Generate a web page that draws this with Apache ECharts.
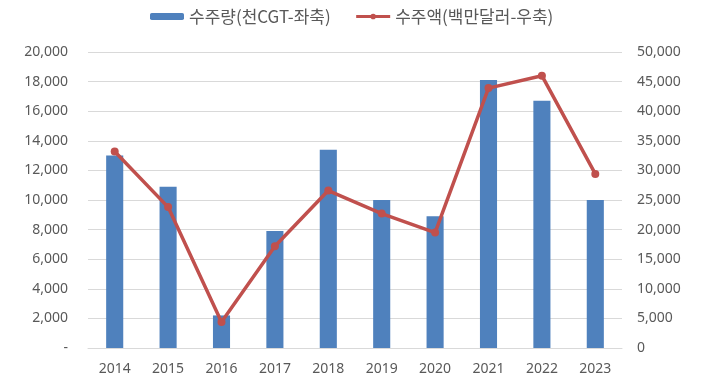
<!DOCTYPE html>
<html>
<head>
<meta charset="utf-8">
<script src="https://cdn.jsdelivr.net/npm/echarts@6/dist/echarts.min.js"></script>
<style>html,body{margin:0;padding:0;background:#fff;}#c{width:701px;height:391px;}</style>
</head>
<body>
<div id="c"></div>
<script>
const categories = ['2014','2015','2016','2017','2018','2019','2020','2021','2022','2023'];
const orderVolume = [13000, 10900, 2200, 7900, 13400, 10000, 8900, 18100, 16700, 10000];
const orderValue = [33200, 23800, 4400, 17200, 26600, 22700, 19500, 43900, 46000, 29400];
const leftTicks = {min: 0, max: 20000, interval: 2000};
const rightTicks = {min: 0, max: 50000, interval: 5000};

const fmt = v => v.toLocaleString('en-US');
const chart = echarts.init(document.getElementById('c'));
const font = '"Noto Sans CJK KR", "Noto Sans", sans-serif';
const numFont = '"Noto Sans", "Noto Sans CJK KR", sans-serif';
chart.setOption({
  animation: false,
  textStyle: {fontFamily: font},
  legend: {
    top: 3, left: 145, itemGap: 24, itemWidth: 34, itemHeight: 7,
    textStyle: {color: '#595959', fontSize: 17, fontFamily: font},
    data: [
      {name: '수주량(천CGT-좌축)'},
      {name: '수주액(백만달러-우축)', lineStyle: {width: 3}}
    ]
  },
  grid: {left: 88, right: 79, top: 52, bottom: 43},
  xAxis: {
    type: 'category', data: categories,
    axisLine: {lineStyle: {color: '#D9D9D9'}},
    axisTick: {show: false},
    axisLabel: {color: '#595959', fontSize: 14, margin: 14, fontFamily: numFont}
  },
  yAxis: [
    {
      type: 'value', min: leftTicks.min, max: leftTicks.max, interval: leftTicks.interval,
      axisLine: {show: false}, axisTick: {show: false},
      splitLine: {lineStyle: {color: '#D9D9D9'}},
      axisLabel: {color: '#595959', fontSize: 14, margin: 20, fontFamily: numFont,
        formatter: v => v === 0 ? '-' : fmt(v)}
    },
    {
      type: 'value', min: rightTicks.min, max: rightTicks.max, interval: rightTicks.interval,
      axisLine: {show: false}, axisTick: {show: false},
      splitLine: {show: false},
      axisLabel: {color: '#595959', fontSize: 14, margin: 15, fontFamily: numFont,
        formatter: v => fmt(v)}
    }
  ],
  series: [
    {
      name: '수주량(천CGT-좌축)', type: 'bar', data: orderVolume, yAxisIndex: 0,
      barWidth: '32%', itemStyle: {color: '#4F81BD'}
    },
    {
      name: '수주액(백만달러-우축)', type: 'line', data: orderValue, yAxisIndex: 1,
      symbol: 'circle', symbolSize: 8,
      lineStyle: {color: '#C0504D', width: 3.5},
      itemStyle: {color: '#C0504D'}
    }
  ]
});
</script>
</body>
</html>
